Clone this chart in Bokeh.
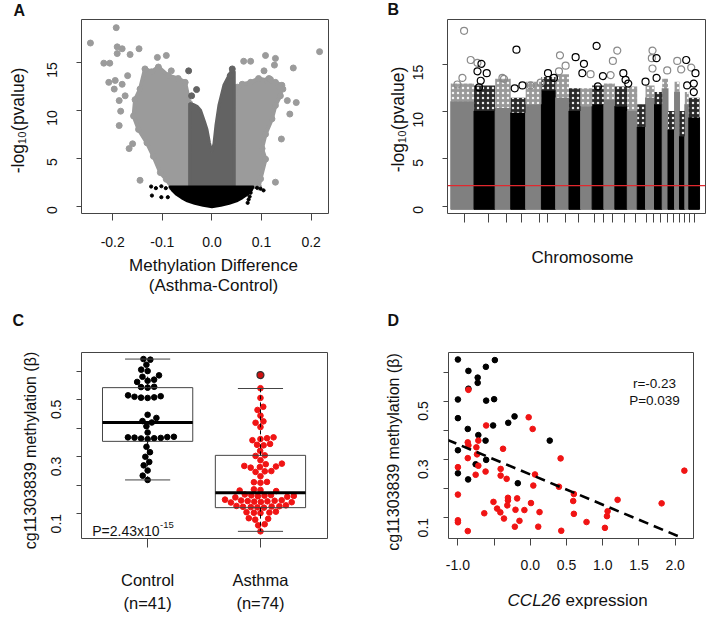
import math
from bokeh.plotting import figure
from bokeh.layouts import row, column
from bokeh.models import Range1d, FixedTicker, Label, Span
from bokeh.embed import file_html
from bokeh.resources import INLINE

FONT = "Liberation Sans"

# ---------------- Panel A : volcano plot ----------------
# envelopes of the dense clouds (methylation difference, -log10 p)
light_left_x = [-0.045, -0.081, -0.092, -0.104, -0.118, -0.131, -0.148, -0.158, -0.155, -0.145, -0.135, -0.122, -0.108, -0.088, -0.068, -0.054, -0.045]
light_left_y = [2.0, 2.0, 2.8, 3.5, 5.2, 6.6, 8.0, 9.4, 11.1, 12.2, 14.3, 14.0, 14.5, 13.6, 13.3, 12.9, 10.7]
light_right_x = [0.045, 0.045, 0.051, 0.061, 0.078, 0.094, 0.111, 0.128, 0.141, 0.138, 0.128, 0.121, 0.108, 0.101, 0.108, 0.098, 0.094]
light_right_y = [2.0, 11.5, 12.4, 12.7, 12.9, 13.3, 13.1, 12.9, 12.6, 11.5, 10.5, 9.1, 7.5, 6.0, 4.9, 2.85, 2.0]
dark_x = [-0.045, -0.045, -0.038, -0.030, -0.023, -0.015, -0.010, -0.005, 0.0, 0.004, 0.008, 0.014, 0.024, 0.034, 0.041, 0.045, 0.045]
dark_y = [2.0, 10.7, 10.6, 10.4, 10.0, 8.8, 8.0, 6.6, 5.6, 6.5, 8.4, 10.5, 12.6, 13.6, 14.3, 14.0, 2.0]
black_x = [-0.086, -0.080, -0.072, -0.062, -0.050, -0.035, -0.018, 0.0, 0.018, 0.035, 0.050, 0.062, 0.072, 0.080, 0.084]
black_y = [2.05, 1.6, 1.2, 0.85, 0.5, 0.25, 0.05, -0.1, 0.05, 0.25, 0.5, 0.85, 1.2, 1.6, 2.05]
# isolated probes
light_pts_x = [-0.245, -0.193, -0.191, -0.181, -0.191, -0.165, -0.147, -0.218, -0.206, -0.208, -0.195, -0.181, -0.197, -0.187, -0.184, -0.187, -0.160, -0.167, -0.145, -0.110, -0.092, -0.082, -0.170, -0.175,
               0.217, 0.064, 0.078, 0.108, 0.128, 0.126, 0.164, 0.115, 0.136, 0.152, 0.170, 0.157, 0.140, 0.128, 0.105, 0.118, 0.143]
light_pts_y = [17.0, 18.6, 16.6, 16.4, 15.9, 15.8, 16.4, 14.9, 14.9, 12.9, 13.1, 12.7, 12.2, 11.0, 9.9, 8.4, 6.5, 6.0, 2.7, 15.5, 15.7, 14.1, 13.6, 11.5,
               16.1, 15.1, 15.1, 15.7, 15.4, 14.7, 14.4, 13.3, 12.4, 11.0, 10.8, 9.6, 7.0, 2.5, 14.1, 13.2, 12.2]
dark_pts_x = [-0.047, -0.031, -0.041, 0.041, 0.037]
dark_pts_y = [14.1, 12.15, 11.5, 14.3, 13.6]
black_pts_x = [-0.1226, -0.113, -0.102, -0.093, -0.121, -0.102, -0.089, 0.091, 0.098, 0.104, 0.078, 0.076, 0.074, 0.072]
black_pts_y = [2.05, 1.88, 2.08, 1.88, 1.11, 0.94, 0.94, 1.92, 1.82, 1.65, 1.4, 1.0, 0.7, 0.35]
a_xticks = [-0.2, -0.1, 0.0, 0.1, 0.2]
a_xlabels = ["-0.2", "-0.1", "0.0", "0.1", "0.2"]
logp_ticks = [0, 5, 10, 15]

# ---------------- Panel B : Manhattan plot ----------------
chr_len_mb = [269, 245, 180, 173, 182, 165, 154, 135, 133, 136, 127, 144, 115, 96, 104, 89, 67, 76, 57, 62, 46, 124]
chr_tick_mb = [162, 431, 644, 817, 1029, 1125, 1333, 1483, 1665, 1772, 1876, 2015, 2139, 2266, 2350, 2428, 2505, 2582, 2647, 2709, 2763, 2821]
chr_dense_top = [11.1, 10.1, 10.4, 9.9, 10.8, 12.3, 11.5, 10.1, 10.6, 10.8, 11.3, 10.6, 10.1, 8.4, 11.5, 10.8, 12.5, 8.1, 12.1, 7.4, 10.8, 9.4]
chr_cloud_top = [13.0, 12.8, 13.5, 11.5, 13.2, 13.7, 14.0, 12.5, 12.5, 12.8, 13.0, 12.7, 12.7, 10.8, 12.8, 12.1, 13.5, 10.1, 13.2, 10.1, 12.1, 11.5]
hits_gray_pos = [154, 231, 309, 135, 77, 616, 598, 925, 1040, 1264, 1329, 1252, 1618, 1927, 1876, 1850, 2335, 2327, 2335, 2505, 2621, 2667, 2783]
hits_gray_logp = [18.6, 15.5, 15.2, 13.6, 12.9, 13.5, 13.6, 12.8, 13.1, 16.0, 14.9, 14.3, 14.0, 16.5, 15.4, 13.9, 16.5, 15.7, 14.6, 14.4, 15.4, 14.5, 14.7]
hits_black_pos = [760, 355, 309, 416, 347, 327, 740, 829, 1125, 1194, 1445, 1541, 1523, 1688, 1761, 1703, 1997, 2023, 2054, 2254, 2382, 2382, 2725, 2736, 2832, 2813, 2813]
hits_black_logp = [16.6, 15.1, 14.3, 14.1, 13.3, 12.6, 12.5, 12.8, 14.1, 13.6, 15.8, 15.1, 14.1, 17.0, 13.8, 12.7, 14.1, 13.4, 13.0, 13.2, 15.7, 13.6, 15.5, 12.8, 14.1, 13.0, 12.1]
threshold_logp = 2.17

# ---------------- Panel C : beeswarm + box ----------------
control_beta = [0.219, 0.234, 0.252, 0.270, 0.282, 0.300, 0.316, 0.335, 0.362, 0.364, 0.365, 0.366, 0.367, 0.368, 0.369, 0.370,
                0.385, 0.407, 0.420, 0.425, 0.436, 0.447,
                0.506, 0.507, 0.508, 0.510, 0.512, 0.515, 0.542, 0.544, 0.545, 0.562, 0.566, 0.570, 0.580, 0.585, 0.600, 0.605, 0.622, 0.640, 0.642]
asthma_beta = [0.586, 0.540, 0.506, 0.475, 0.464, 0.444, 0.424, 0.419, 0.404, 0.368, 0.365, 0.362, 0.358, 0.345, 0.342, 0.340, 0.321,
               0.305, 0.303, 0.288, 0.276, 0.274, 0.268, 0.266, 0.264, 0.262, 0.250, 0.249, 0.247, 0.232, 0.212, 0.211, 0.209,
               0.186, 0.184, 0.182, 0.180,
               0.168, 0.166, 0.165, 0.164, 0.163, 0.162, 0.160, 0.158,
               0.150, 0.148, 0.147, 0.146, 0.145, 0.144, 0.143, 0.142, 0.141, 0.140,
               0.130, 0.128, 0.127, 0.126, 0.125, 0.124, 0.123, 0.122,
               0.108, 0.106, 0.105, 0.104, 0.103,
               0.085, 0.083, 0.080, 0.064, 0.060, 0.039]
groups = ["Control", "Asthma"]
group_n = ["(n=41)", "(n=74)"]
box_q1 = [0.354, 0.122]
box_med = [0.420, 0.174]
box_q3 = [0.542, 0.305]
whisk_lo = [0.219, 0.039]
whisk_hi = [0.642, 0.539]
asthma_outlier = 0.586
beta_ticks = [0.1, 0.2, 0.3, 0.4, 0.5, 0.6]

# ---------------- Panel D : correlation ----------------
ctrl_expr = [-1.0, -0.49, -0.855, -0.614, -0.727, -0.727, -0.855, -1.0, -0.61, -0.5, -1.0, -0.218, -0.305, -0.514, -0.864, -0.718, -0.618, 0.268, -1.0, -0.61, -0.755, -1.0, -0.859, -0.173]
ctrl_meth = [0.643, 0.641, 0.604, 0.618, 0.581, 0.563, 0.543, 0.506, 0.502, 0.507, 0.442, 0.448, 0.426, 0.417, 0.405, 0.384, 0.365, 0.365, 0.332, 0.299, 0.284, 0.253, 0.232, 0.219]
asth_expr = [-0.855, -0.023, 0.032, -0.61, -0.864, -0.718, -0.855, -0.745, -0.377, -0.736, -0.864, 0.418, -0.718, -1.0, -0.41, -0.618, -0.755, -0.41, -0.327, 0.064, 0.041, 0.395, -1.0, -0.309, -0.182, -0.309, -0.509, -0.318, 0.009, -0.459, -0.414, -0.205, -0.082, -0.364, -0.15, 0.127, -0.636, -1.0, -1.0, -0.214, 0.109, -0.864, 0.427, 0.601, 0.592, 0.601, 0.776, 1.067, 1.058, 1.03, 1.205, 1.813, 2.127]
asth_meth = [0.539, 0.445, 0.405, 0.417, 0.359, 0.365, 0.349, 0.342, 0.337, 0.318, 0.305, 0.304, 0.279, 0.274, 0.268, 0.259, 0.248, 0.245, 0.234, 0.249, 0.211, 0.207, 0.180, 0.169, 0.167, 0.160, 0.155, 0.143, 0.151, 0.132, 0.119, 0.128, 0.127, 0.098, 0.090, 0.120, 0.116, 0.092, 0.085, 0.070, 0.070, 0.055, 0.056, 0.182, 0.158, 0.114, 0.086, 0.123, 0.106, 0.066, 0.162, 0.150, 0.262]
fit_intercept = 0.249
fit_slope = -0.1036
fit_x = [-1.15, 2.05]
expr_ticks = [-1.0, -0.5, 0.0, 0.5, 1.0, 1.5, 2.0]
expr_labels = ["-1.0", "", "0.0", "0.5", "1.0", "1.5", "2.0"]

GRAYLINE = "#444444"
TXT = "#111111"


class Frame:
    """figure + helper for placing texts (canvas pixels) around the frame"""
    def __init__(self, w, h, xr, yr, fl, fr, ft, fb):
        self.xr, self.yr, self.fl, self.fr, self.ft, self.fb = xr, yr, fl, fr, ft, fb
        p = figure(width=w, height=h, x_range=Range1d(*xr), y_range=Range1d(*yr),
                   output_backend="svg", toolbar_location=None,
                   min_border_left=fl, min_border_right=w - fr,
                   min_border_top=ft, min_border_bottom=h - fb)
        p.outline_line_color = GRAYLINE
        p.outline_line_width = 1
        p.xgrid.visible = False
        p.ygrid.visible = False
        p.background_fill_color = "white"
        p.border_fill_color = "white"
        for ax in (p.xaxis[0], p.yaxis[0]):
            ax.axis_line_color = None
            ax.major_tick_line_color = GRAYLINE
            ax.minor_tick_line_color = None
            ax.major_tick_in = 0
            ax.major_tick_out = 6
            ax.major_label_text_font = FONT
            ax.major_label_text_font_size = "14px"
            ax.major_label_text_color = TXT
        p.yaxis[0].major_label_orientation = math.pi / 2
        self.p = p

    def text(self, px, py, txt, panel, size="17px", align="center", baseline="middle", style="normal", angle=0.0):
        lab = Label(x=px, y=py, x_units="canvas", y_units="canvas", text=txt,
                    text_font=FONT, text_font_size=size, text_align=align,
                    text_baseline=baseline, text_font_style=style, text_color=TXT, angle=angle)
        self.p.add_layout(lab, panel)


# ======== A ========
FA = Frame(360, 313, (-0.263, 0.235), (-0.76, 19.45), 81, 328, 19, 213)
pa = FA.p
LIGHT, DARK = "#9b9b9b", "#636363"
pa.patch(light_left_x, light_left_y, fill_color=LIGHT, line_color=LIGHT, line_width=4)
pa.patch(light_right_x, light_right_y, fill_color=LIGHT, line_color=LIGHT, line_width=4)
pa.scatter(light_left_x + light_right_x, light_left_y + light_right_y, size=6, color=LIGHT)
pa.scatter(light_pts_x, light_pts_y, size=6, color=LIGHT)
pa.patch(dark_x, dark_y, fill_color=DARK, line_color=DARK, line_width=3)
pa.scatter(dark_pts_x, dark_pts_y, size=6, color=DARK)
pa.patch(black_x, black_y, fill_color="black", line_color="black", line_width=2)
pa.scatter(black_pts_x, black_pts_y, size=3.2, color="black")
pa.xaxis.ticker = FixedTicker(ticks=a_xticks)
pa.xaxis.major_label_overrides = {t: l for t, l in zip(a_xticks, a_xlabels)}
pa.yaxis.ticker = FixedTicker(ticks=logp_ticks)
pa.xaxis.major_tick_out = 7
pa.xaxis.major_label_standoff = 16
pa.yaxis.major_tick_out = 5
pa.yaxis.major_label_standoff = 24
FA.text(213, 265, "Methylation Difference", "below")
FA.text(213, 285, "(Asthma-Control)", "below")
FA.text(17, 120, "-log\u2081\u2080(pvalue)", "left", size="17.5px", angle=math.pi / 2)
FA.text(13, 10, "A", "left", size="16px", align="left", style="bold")

# ======== B ========
FB = Frame(360, 313, (-38, 2948), (-0.79, 19.8), 87, 345, 18, 220)
pb = FB.p
starts, ends = [], []
acc = 0
for L in chr_len_mb:
    starts.append(acc)
    acc += L
    ends.append(acc)
band_col = ["#808080" if i % 2 == 0 else "#000000" for i in range(len(chr_len_mb))]
cloud_col = ["#999999" if i % 2 == 0 else "#2a2a2a" for i in range(len(chr_len_mb))]
pb.quad(left=starts, right=ends, bottom=[-0.35] * len(starts), top=chr_dense_top,
        fill_color=band_col, line_color=band_col)
pb.quad(left=starts, right=ends, bottom=chr_dense_top, top=chr_cloud_top,
        fill_color=cloud_col, line_color=None, hatch_pattern=".", hatch_color="white",
        hatch_scale=5, hatch_weight=1.5, hatch_alpha=0.9)
pb.scatter(hits_gray_pos, hits_gray_logp, marker="circle", size=7, fill_color=None,
           line_color="#8a8a8a", line_width=1.2)
pb.scatter(hits_black_pos, hits_black_logp, marker="circle", size=7, fill_color=None,
           line_color="black", line_width=1.2)
pb.add_layout(Span(location=threshold_logp, dimension="width", line_color="#e0282e", line_width=1.3))
pb.xaxis.ticker = FixedTicker(ticks=[], minor_ticks=chr_tick_mb)
pb.xaxis.minor_tick_line_color = GRAYLINE
pb.xaxis.minor_tick_in = 0
pb.xaxis.minor_tick_out = 9
pb.yaxis.ticker = FixedTicker(ticks=logp_ticks)
pb.yaxis.major_tick_out = 5
pb.yaxis.major_label_standoff = 24
FB.text(222, 257, "Chromosome", "below")
FB.text(37, 119, "-log\u2081\u2080(pvalue)", "left", size="17.5px", angle=math.pi / 2)
FB.text(27, 9, "B", "left", size="16px", align="left", style="bold")

# ======== C ========
FC = Frame(360, 326, (0.414, 2.594), (0.014, 0.665), 81, 327, 39, 231)
pc = FC.p
px_per_x = (FC.fr - FC.fl) / (FC.xr[1] - FC.xr[0])
px_per_y = (FC.fb - FC.ft) / (FC.yr[1] - FC.yr[0])


def swarm_offsets(vals, spacing):
    order = sorted(range(len(vals)), key=lambda i: vals[i])
    placed = []
    offs = [0.0] * len(vals)
    for i in order:
        y = vals[i] * px_per_y
        cands = [0.0]
        for xj, yj in placed:
            ddy = y - yj
            if abs(ddy) < spacing:
                ddx = math.sqrt(spacing * spacing - ddy * ddy)
                cands += [xj + ddx, xj - ddx]
        cands.sort(key=lambda c: (abs(c), c))
        best = 0.0
        for c in cands:
            if all((c - xj) ** 2 + (y - yj) ** 2 >= spacing * spacing - 1e-6 for xj, yj in placed):
                best = c
                break
        placed.append((best, y))
        offs[i] = best / px_per_x
    return offs


ctrl_off = swarm_offsets(control_beta, 6.6)
asth_off = swarm_offsets(asthma_beta, 6.6)
pc.scatter([1 + o for o in ctrl_off], control_beta, size=5.6, color="black")
pc.scatter([2 + o for o in asth_off], asthma_beta, size=5.6, color="#f01414")
pos = [1, 2]
pc.quad(left=[p - 0.4 for p in pos], right=[p + 0.4 for p in pos], bottom=box_q1, top=box_q3,
        fill_color=None, line_color=GRAYLINE, line_width=1)
pc.segment(x0=pos, y0=box_q3, x1=pos, y1=whisk_hi, line_color="black", line_dash="4 3", line_width=1)
pc.segment(x0=pos, y0=box_q1, x1=pos, y1=whisk_lo, line_color="black", line_dash="4 3", line_width=1)
pc.segment(x0=[p - 0.2 for p in pos], y0=whisk_hi, x1=[p + 0.2 for p in pos], y1=whisk_hi, line_color=GRAYLINE, line_width=1)
pc.segment(x0=[p - 0.2 for p in pos], y0=whisk_lo, x1=[p + 0.2 for p in pos], y1=whisk_lo, line_color=GRAYLINE, line_width=1)
pc.segment(x0=[p - 0.4 for p in pos], y0=box_med, x1=[p + 0.4 for p in pos], y1=box_med, line_color="black", line_width=3)
pc.scatter([2], [asthma_outlier], size=7, fill_color="#d01010", line_color="#333333", line_width=1.2)
pc.xaxis.ticker = FixedTicker(ticks=pos)
pc.xaxis.major_label_overrides = {p: g + "\n" + n for p, g, n in zip(pos, groups, group_n)}
pc.xaxis.major_label_text_font_size = "16.5px"
pc.xaxis.major_label_text_line_height = 1.3
pc.xaxis.major_tick_out = 9
pc.xaxis.major_label_standoff = 23
pc.yaxis.ticker = FixedTicker(ticks=beta_ticks)
pc.yaxis.major_label_overrides = {0.1: "0.1", 0.2: "", 0.3: "0.3", 0.4: "", 0.5: "0.5", 0.6: ""}
pc.yaxis.major_tick_out = 5
pc.yaxis.major_label_standoff = 20
FC.text(30, 137, "cg11303839 methylation (\u03b2)", "left", size="16px", angle=math.pi / 2)
FC.text(91.7, 217, "P=2.43x10", "center", size="14px", align="left")
FC.text(159.5, 211.5, "-15", "center", size="9.5px", align="left")
FC.text(12, 7, "C", "left", size="16px", align="left", style="bold")

# ======== D ========
FD = Frame(360, 326, (-1.13, 2.253), (0.0295, 0.667), 88, 333, 33, 225)
pd_ = FD.p
pd_.scatter(ctrl_expr, ctrl_meth, size=5.6, color="black")
pd_.scatter(asth_expr, asth_meth, size=5.6, color="#f01414")
pd_.line(fit_x, [fit_intercept + fit_slope * x for x in fit_x], line_color="black",
         line_width=2.6, line_dash="10 6")
pd_.xaxis.ticker = FixedTicker(ticks=expr_ticks)
pd_.xaxis.major_label_overrides = {t: l for t, l in zip(expr_ticks, expr_labels)}
pd_.xaxis.major_tick_out = 7
pd_.xaxis.major_label_standoff = 14
pd_.yaxis.ticker = FixedTicker(ticks=beta_ticks)
pd_.yaxis.major_label_overrides = {0.1: "0.1", 0.2: "", 0.3: "0.3", 0.4: "", 0.5: "0.5", 0.6: ""}
pd_.yaxis.major_tick_out = 5
pd_.yaxis.major_label_standoff = 20
FD.text(33.3, 138.5, "cg11303839 methylation (\u03b2)", "left", size="16px", angle=math.pi / 2)
FD.text(200, 287, "CCL26", "below", size="17px", align="right", style="italic")
FD.text(205, 287, "expression", "below", size="17px", align="left")
FD.text(294, 70, "r=-0.23", "center", size="13.5px")
FD.text(294, 87, "P=0.039", "center", size="13.5px")
FD.text(27, 7, "D", "left", size="16px", align="left", style="bold")

layout = column(row(pa, pb), row(pc, pd_))
open("out.html", "w").write(file_html(layout, INLINE))
